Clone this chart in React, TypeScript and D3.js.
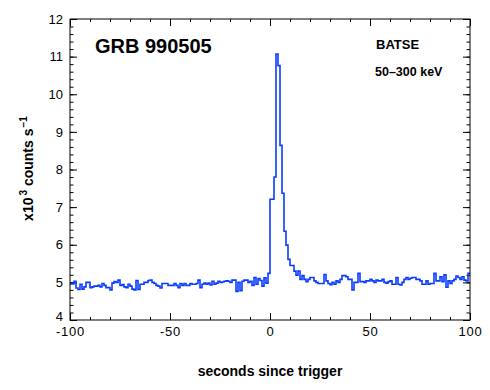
import * as d3 from "d3";
import { useEffect, useRef } from "react";

// BATSE 50-300 keV count rate, 1 s bins, x10^3 counts/s
const binStart = -100;
const binSize = 1;

// t = -100 ... -1
const preBurst = [
  4.96, 4.96, 5.03, 4.85, 4.81, 4.95, 4.82, 4.88, 5.0, 5.0,
  4.86, 4.88, 4.9, 4.9, 4.92, 4.88, 4.97, 4.92, 4.86, 4.86,
  4.8, 4.98, 5.02, 5.0, 5.06, 4.92, 4.94, 4.88, 4.86, 4.95,
  4.9, 4.82, 4.8, 5.05, 4.81, 4.95, 4.95, 5.0, 5.0, 5.05,
  5.06, 5.0, 4.97, 4.92, 4.9, 4.85, 4.97, 4.97, 4.97, 4.92,
  4.92, 4.92, 4.97, 4.92, 4.86, 4.97, 4.92, 4.97, 4.92, 4.92,
  4.97, 4.95, 4.95, 4.97, 5.06, 4.86, 4.95, 4.98, 4.95, 4.98,
  4.93, 5.03, 4.95, 4.98, 5.03, 5.0, 5.01, 5.03, 5.04, 5.03,
  5.0, 5.06, 5.06, 4.76, 5.0, 4.78, 5.03, 5.06, 5.06, 5.0,
  5.03, 4.92, 5.13, 4.95, 5.1, 5.05, 4.9, 5.12, 4.98, 5.24,
];

// t = 0 ... 16
const burst = [
  7.21, 7.21, 7.8, 11.07, 10.76, 8.64, 7.37, 6.36, 5.99, 5.61,
  5.45, 5.45, 5.3, 5.19, 5.3, 5.08, 5.18,
];

// t = 17 ... 99
const tail = [
  5.08, 5.02, 5.08, 5.13, 5.13, 5.04, 5.0, 4.97, 4.97, 4.97,
  5.21, 5.04, 4.97, 4.94, 5.0, 4.95, 5.04, 5.0, 5.08, 5.18,
  5.18, 5.15, 5.08, 5.08, 4.8, 5.0, 5.0, 5.24, 5.02, 5.02,
  5.0, 5.04, 5.04, 5.08, 5.04, 5.0, 5.06, 5.04, 5.04, 5.08,
  5.0, 4.98, 5.02, 5.04, 4.95, 4.95, 5.13, 4.95, 4.93, 5.0,
  5.08, 5.13, 5.08, 5.11, 5.13, 5.13, 5.08, 5.08, 5.04, 4.95,
  4.95, 5.04, 4.95, 4.97, 4.97, 5.24, 5.04, 5.04, 5.15, 5.02,
  5.2, 4.87, 5.04, 4.97, 5.04, 5.08, 5.17, 5.13, 5.08, 5.15,
  5.06, 5.04, 5.24,
];

const xMajor = [-100, -50, 0, 50, 100];
const yMajor = [4, 5, 6, 7, 8, 9, 10, 11, 12];

const width = 490;
const height = 390;

function LightCurve() {
  const ref = useRef<SVGSVGElement>(null);

  useEffect(() => {
    const margin = { top: 19, right: 20, bottom: 70, left: 70 };
    const font = "'Liberation Sans', Arial, Helvetica, sans-serif";
    const lineColor = "#0a3cff";

    const svg = d3.select(ref.current);
    svg.selectAll("*").remove();

    const rates = [...preBurst, ...burst, ...tail];
    const points = rates.map((v, i) => ({ t: binStart + i * binSize, v }));
    // close the last bin
    points.push({ t: binStart + rates.length * binSize, v: rates[rates.length - 1] });

    const x = d3.scaleLinear().domain([-100, 100]).range([margin.left, width - margin.right]);
    const y = d3.scaleLinear().domain([4, 12]).range([height - margin.bottom, margin.top]);

    const styleAxis = (g: d3.Selection<SVGGElement, unknown, null, undefined>) => {
      g.select(".domain").remove();
      g.selectAll("line").attr("stroke", "#000").attr("stroke-width", 1);
      g.selectAll("text")
        .attr("fill", "#000")
        .style("font-family", font)
        .style("font-size", "13px");
    };

    const xMinor = d3.range(-100, 101, 10);
    const yMinor = d3.range(4, 12.01, 0.2);
    const plain = (d: d3.NumberValue) => String(d);

    // bottom
    svg.append("g")
      .attr("transform", `translate(0,${y(4)})`)
      .call(d3.axisBottom(x).tickValues(xMinor).tickSize(-3).tickFormat(() => ""))
      .call(styleAxis);
    svg.append("g")
      .attr("transform", `translate(0,${y(4)})`)
      .call(d3.axisBottom(x).tickValues(xMajor).tickSize(-7).tickPadding(7).tickFormat(plain))
      .call(styleAxis)
      .selectAll("text")
      .style("letter-spacing", "0.8px");
    // top
    svg.append("g")
      .attr("transform", `translate(0,${y(12)})`)
      .call(d3.axisTop(x).tickValues(xMinor).tickSize(-3).tickFormat(() => ""))
      .call(styleAxis);
    svg.append("g")
      .attr("transform", `translate(0,${y(12)})`)
      .call(d3.axisTop(x).tickValues(xMajor).tickSize(-7).tickFormat(() => ""))
      .call(styleAxis);
    // left
    svg.append("g")
      .attr("transform", `translate(${x(-100)},0)`)
      .call(d3.axisLeft(y).tickValues(yMinor).tickSize(-3.5).tickFormat(() => ""))
      .call(styleAxis);
    svg.append("g")
      .attr("transform", `translate(${x(-100)},0)`)
      .call(d3.axisLeft(y).tickValues(yMajor).tickSize(-7).tickPadding(7).tickFormat(plain))
      .call(styleAxis)
      .selectAll<SVGTextElement, number>("text")
      .filter((d) => d === 4)
      .attr("dy", "0.05em");
    // right
    svg.append("g")
      .attr("transform", `translate(${x(100)},0)`)
      .call(d3.axisRight(y).tickValues(yMinor).tickSize(-3.5).tickFormat(() => ""))
      .call(styleAxis);
    svg.append("g")
      .attr("transform", `translate(${x(100)},0)`)
      .call(d3.axisRight(y).tickValues(yMajor).tickSize(-7).tickFormat(() => ""))
      .call(styleAxis);

    // light curve
    const line = d3.line<{ t: number; v: number }>()
      .x((d) => x(d.t))
      .y((d) => y(d.v))
      .curve(d3.curveStepAfter);

    svg.append("path")
      .datum(points)
      .attr("fill", "none")
      .attr("stroke", lineColor)
      .attr("stroke-width", 1.6)
      .attr("d", line);

    // frame
    svg.append("rect")
      .attr("x", x(-100))
      .attr("y", y(12))
      .attr("width", x(100) - x(-100))
      .attr("height", y(4) - y(12))
      .attr("fill", "none")
      .attr("stroke", "#000")
      .attr("stroke-width", 1);

    // annotations
    svg.append("text")
      .attr("x", 95)
      .attr("y", 53)
      .style("font-family", font)
      .style("font-weight", "bold")
      .style("font-size", "20px")
      .text("GRB 990505");

    svg.append("text")
      .attr("x", 376)
      .attr("y", 49)
      .style("font-family", font)
      .style("font-weight", "bold")
      .style("font-size", "13px")
      .text("BATSE");

    svg.append("text")
      .attr("x", 375)
      .attr("y", 76)
      .style("font-family", font)
      .style("font-weight", "bold")
      .style("font-size", "12.5px")
      .text("50\u2013300 keV");

    // axis titles
    svg.append("text")
      .attr("x", (x(-100) + x(100)) / 2)
      .attr("y", 376)
      .attr("text-anchor", "middle")
      .style("font-family", font)
      .style("font-weight", "bold")
      .style("font-size", "14px")
      .text("seconds since trigger");

    const yTitle = svg.append("text")
      .attr("transform", `translate(33,${(y(4) + y(12)) / 2 - 1}) rotate(-90)`)
      .attr("text-anchor", "middle")
      .style("font-family", font)
      .style("font-weight", "bold")
      .style("font-size", "14px");
    yTitle.append("tspan").text("x10");
    yTitle.append("tspan").attr("dx", 2).attr("dy", -6).style("font-size", "10px").text("3");
    yTitle.append("tspan").attr("dy", 6).text(" counts s");
    yTitle.append("tspan").attr("dx", 1).attr("dy", -6).style("font-size", "10px").text("\u22121");
  }, []);

  return (
    <svg
      ref={ref}
      width={width}
      height={height}
      style={{ position: "absolute", left: 0, top: 0, background: "#fff" }}
    />
  );
}

export default function App() {
  return <LightCurve />;
}
